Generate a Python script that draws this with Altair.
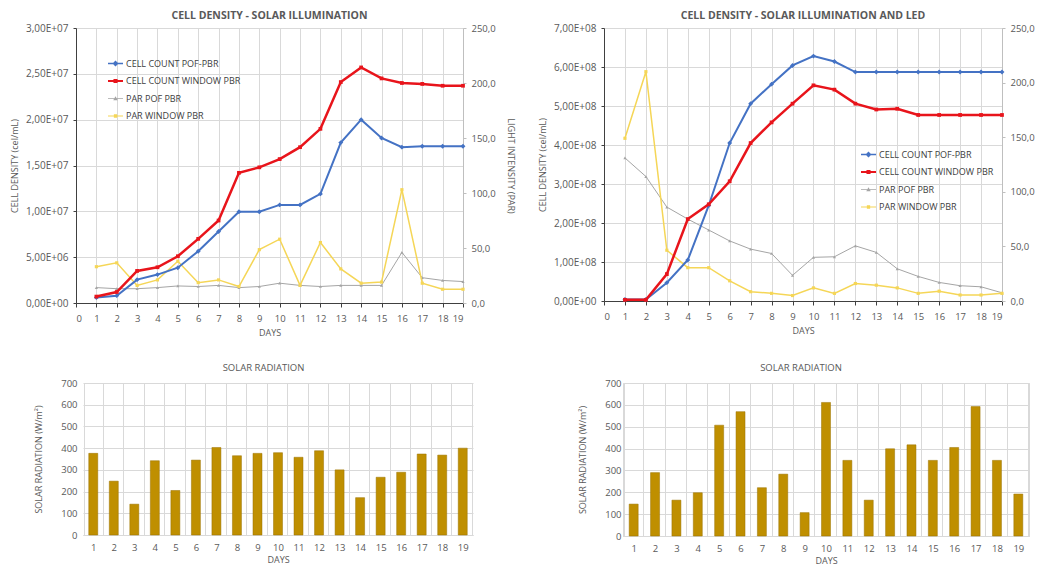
import altair as alt
import pandas as pd

days = list(range(1, 20))
series_names = ["CELL COUNT POF-PBR", "CELL COUNT WINDOW PBR", "PAR POF PBR", "PAR WINDOW PBR"]

# Top-left: solar illumination
tl_cell_pof = [0.6e6, 0.8e6, 2.55e6, 3.1e6, 3.85e6, 5.65e6, 7.8e6, 9.95e6, 9.95e6, 10.7e6,
               10.7e6, 11.9e6, 17.5e6, 20.0e6, 18.0e6, 17.0e6, 17.1e6, 17.1e6, 17.1e6]
tl_cell_win = [0.7e6, 1.2e6, 3.5e6, 3.9e6, 5.1e6, 7.0e6, 9.0e6, 14.2e6, 14.8e6, 15.7e6,
               17.0e6, 19.0e6, 24.1e6, 25.7e6, 24.5e6, 24.0e6, 23.9e6, 23.7e6, 23.7e6]
tl_par_pof = [14, 13, 13, 14, 15.5, 15, 16, 14, 15, 18, 16, 15, 16, 16, 16, 46, 23, 20.5, 19.5]
tl_par_win = [33, 36.5, 16, 21, 38, 18.5, 21, 15, 48.5, 58, 16, 55, 31, 18, 19, 103, 18, 12.5, 12.5]

# Top-right: solar illumination and LED
tr_cell_pof = [0.04e8, 0.04e8, 0.47e8, 1.05e8, 2.45e8, 4.05e8, 5.06e8, 5.56e8, 6.04e8, 6.28e8,
               6.14e8, 5.87e8, 5.87e8, 5.87e8, 5.87e8, 5.87e8, 5.87e8, 5.87e8, 5.87e8]
tr_cell_win = [0.03e8, 0.03e8, 0.69e8, 2.1e8, 2.48e8, 3.07e8, 4.05e8, 4.58e8, 5.06e8, 5.53e8,
               5.42e8, 5.06e8, 4.91e8, 4.93e8, 4.77e8, 4.77e8, 4.77e8, 4.77e8, 4.77e8]
tr_par_pof = [131, 114, 86, 75, 65, 55, 47.5, 43.5, 23.5, 40, 40.5, 50.5, 44.5, 29.5, 22.5, 17, 14, 13, 7.5]
tr_par_win = [149, 210, 46.5, 30.5, 30.5, 18.5, 8.5, 7, 5, 12, 7, 16, 14.5, 12, 7, 9, 5.5, 5.5, 7]

# Bottom: solar radiation (W/m2)
bl_solar = [376, 248, 142, 342, 205, 345, 403, 365, 376, 379, 358, 388, 300, 172, 266, 289, 373, 368, 400]
br_solar = [146, 290, 164, 198, 507, 569, 221, 283, 107, 611, 346, 164, 399, 417, 346, 405, 592, 346, 192]

FONT = "Open Sans"
TXT = "#595959"
GRID = "#d9d9d9"
DARK = "#404040"

series_colors = ["#4472C4", "#E8141B", "#A5A5A5", "#F5D657"]
series_widths = [2, 2.5, 1, 1.5]
marker_shapes = ["diamond", "square", "triangle-up", "square"]
marker_sizes = [24, 14, 10, 10]
legend_paths = [
    "M-1,-0.09H1V0.09H-1Z M0,-0.4L0.4,0L0,0.4L-0.4,0Z",
    "M-1,-0.12H1V0.12H-1Z M-0.27,-0.27H0.27V0.27H-0.27Z",
    "M-1,-0.05H1V0.05H-1Z M0,-0.3L0.3,0.22H-0.3Z",
    "M-1,-0.08H1V0.08H-1Z M-0.22,-0.22H0.22V0.22H-0.22Z",
]

SCI = "replace(replace(format(datum.value, '.2e'), '.', ','), 'e+', 'E+0')"
DEC = "replace(format(datum.value, '.1f'), '.', ',')"


def long_df(a, b, i, j):
    return pd.DataFrame({
        "day": days + days,
        "value": a + b,
        "series": [series_names[i]] * len(a) + [series_names[j]] * len(b),
    })


def series_layers(df, idxs, x_enc, y_enc):
    layers = []
    for i in idxs:
        base = alt.Chart(df).transform_filter(alt.datum.series == series_names[i])
        layers.append(base.mark_line(color=series_colors[i], strokeWidth=series_widths[i]).encode(x=x_enc, y=y_enc))
        layers.append(base.mark_point(shape=marker_shapes[i], filled=True, size=marker_sizes[i],
                                      color=series_colors[i], opacity=1).encode(x=x_enc, y=y_enc))
    return layers


def top_chart(cell_pof, cell_win, par_pof, par_win, ymax, ystep, title, width, height, lx, ly, right_title):
    cell_df = long_df(cell_pof, cell_win, 0, 1)
    par_df = long_df(par_pof, par_win, 2, 3)
    x_enc = alt.X("day:Q", scale=alt.Scale(domain=[0, 19], nice=False, zero=False),
                  axis=alt.Axis(values=list(range(20)), format="d", title="DAYS", grid=True,
                                domainColor=DARK, tickColor=DARK, tickSize=4, labelPadding=6,
                                titlePadding=6))
    nsteps = int(round(ymax / ystep))
    y_left = alt.Y("value:Q", scale=alt.Scale(domain=[0, ymax], nice=False),
                   axis=alt.Axis(orient="left", values=[k * ystep for k in range(nsteps + 1)],
                                 labelExpr=SCI, title="CELL DENSITY (cel/mL)", grid=True,
                                 domainColor=DARK, tickColor=DARK, tickSize=3, labelPadding=5,
                                 labelFontSize=10, titlePadding=6))
    y_right = alt.Y("value:Q", scale=alt.Scale(domain=[0, 250], nice=False),
                    axis=alt.Axis(orient="right", values=[0, 50, 100, 150, 200, 250], labelExpr=DEC,
                                  title=right_title, grid=False, domainColor="#bfbfbf",
                                  tickColor="#bfbfbf", tickSize=3, labelPadding=5, titlePadding=10))
    leg = dict(orient="none", legendX=lx, legendY=ly, title=None, symbolSize=225,
               symbolStrokeWidth=0, labelFontSize=9, labelColor=DARK, labelFont=FONT,
               rowPadding=4.5, labelOffset=3)
    legend_layer = alt.Chart(pd.DataFrame({"series": series_names})).transform_filter("false").mark_point(
        filled=True, opacity=1).encode(
        color=alt.Color("series:N", scale=alt.Scale(domain=series_names, range=series_colors),
                        legend=alt.Legend(**leg)),
        shape=alt.Shape("series:N", scale=alt.Scale(domain=series_names, range=legend_paths),
                        legend=alt.Legend(**leg)),
    )
    par_layer = alt.layer(*series_layers(par_df, [2, 3], x_enc, y_right))
    cell_layer = alt.layer(*series_layers(cell_df, [0, 1], x_enc, y_left), legend_layer)
    return alt.layer(par_layer, cell_layer).resolve_scale(y="independent").properties(
        width=width, height=height,
        title=alt.Title(title, fontSize=10.5, fontWeight="bold", color=TXT, font=FONT, offset=2))


def bar_chart(values, title, width, height, dx, label_pad, title_pad, inset):
    df = pd.DataFrame({"day": days, "rad": values})
    if inset:
        x_scale = alt.Scale(range=[inset, width])
        view = alt.ViewBackground(strokeOpacity=0)
    else:
        x_scale = alt.Scale()
        view = alt.ViewBackground(stroke=GRID)
    return alt.Chart(df).mark_bar(size=9, color="#BF8F00", stroke="#9a7300", strokeWidth=0.5).encode(
        x=alt.X("day:O", scale=x_scale,
                axis=alt.Axis(labelAngle=0, title="DAYS", tickBand="extent", grid=True,
                              ticks=False, domainColor=GRID, labelPadding=7, titlePadding=4)),
        y=alt.Y("rad:Q", scale=alt.Scale(domain=[0, 700], nice=False),
                axis=alt.Axis(values=list(range(0, 701, 100)), title="SOLAR RADIATION (W/m²)",
                              ticks=False, domain=False, grid=True, labelPadding=label_pad,
                              offset=-inset, titlePadding=title_pad)),
    ).properties(width=width, height=height, view=view,
                 title=alt.Title(title, fontSize=9.5, fontWeight="normal", color=TXT, font=FONT,
                                 dx=dx, offset=6))


tl = top_chart(tl_cell_pof, tl_cell_win, tl_par_pof, tl_par_win, 3e7, 5e6,
               "CELL DENSITY - SOLAR ILLUMINATION", 387, 275, 32, 28, "LIGHT INTENSITY (PAR)")
tr = top_chart(tr_cell_pof, tr_cell_win, tr_par_pof, tr_par_win, 7e8, 1e8,
               "CELL DENSITY - SOLAR ILLUMINATION AND LED", 398, 273, 257, 119, None)
bl = bar_chart(bl_solar, "SOLAR RADIATION", 397, 152, -11, 6, 17, 7)
br = bar_chart(br_solar, "SOLAR RADIATION", 406, 153, -25, 2, 17, 0)

row1 = alt.hconcat(tl, tr, spacing=23).resolve_scale(color="independent", shape="independent")
row2 = alt.hconcat(bl, br, spacing=105)

chart = alt.vconcat(row1, row2, spacing=24).resolve_scale(
    color="independent", shape="independent"
).properties(
    padding={"left": 2, "top": 2, "right": 0, "bottom": 0}
).configure_view(stroke=None).configure_axis(
    labelFont=FONT, labelFontSize=9.5, labelColor=TXT, titleFont=FONT, titleFontSize=9,
    titleFontWeight="normal", titleColor=TXT, gridColor=GRID
)

chart.save("out.html", embed_options={"renderer": "svg", "actions": False})
